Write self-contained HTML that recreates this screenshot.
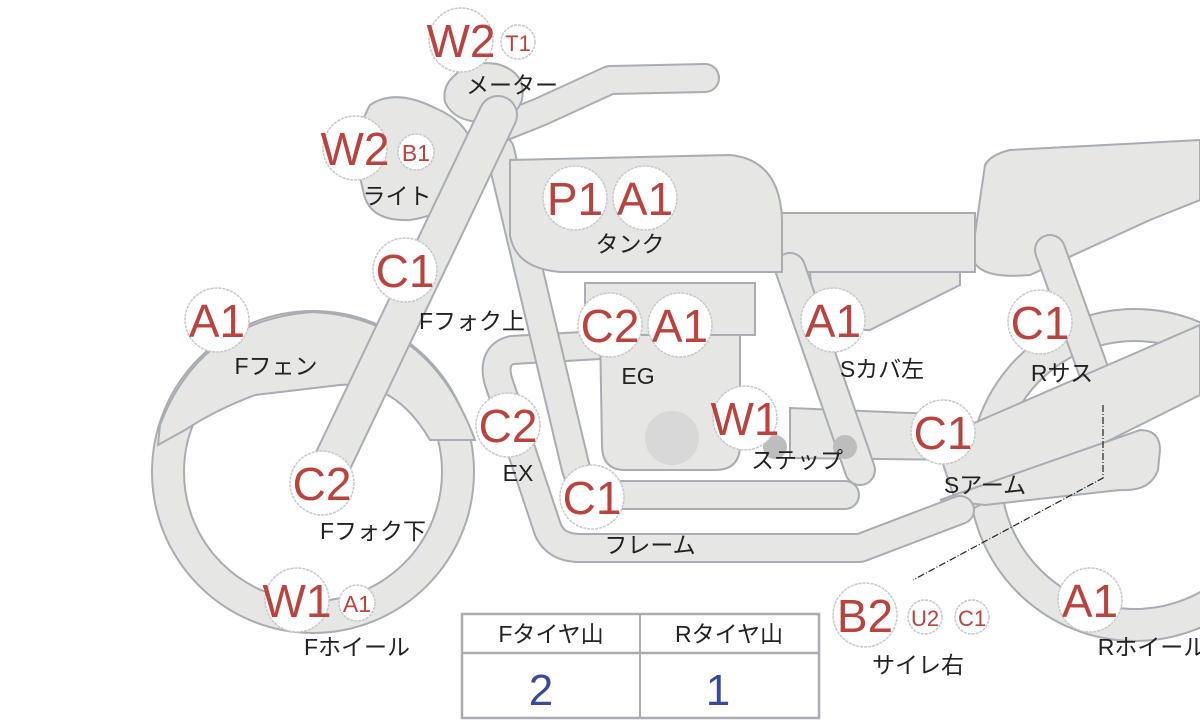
<!DOCTYPE html>
<html><head><meta charset="utf-8"><style>
html,body{margin:0;padding:0;background:#fff;}
svg{display:block}
.s{fill:#e6e6e4;stroke:#a9adb1;stroke-width:2}
.t{fill:none;stroke:#a9adb1;stroke-linecap:round;stroke-linejoin:round}
.f{fill:none;stroke:#e6e6e4;stroke-linecap:round;stroke-linejoin:round}
.b{fill:#fff;stroke:#c8c8c8;stroke-width:1.5;stroke-dasharray:3 1}
.r{fill:#b8433f;font-family:"Liberation Sans","DejaVu Sans",sans-serif;text-anchor:middle}
.l{fill:#222;font-family:"Liberation Sans","Noto Sans CJK JP",sans-serif;font-size:23px;text-anchor:middle}
</style></head><body>
<svg width="1200" height="720" viewBox="0 0 1200 720">
<circle cx="1135" cy="475" r="150" fill="none" stroke="#a9adb1" stroke-width="34"/>
<circle cx="1135" cy="475" r="150" fill="none" stroke="#e6e6e4" stroke-width="30"/>
<circle cx="313" cy="472" r="145" fill="none" stroke="#a9adb1" stroke-width="34"/>
<circle cx="313" cy="472" r="145" fill="none" stroke="#e6e6e4" stroke-width="30"/>
<path class="s" d="M158,445 L160,425 Q200,320 313,312 Q430,318 475,440 L430,440 Q395,380 340,385 L255,395 Q215,410 185,430 Z"/>
<path class="s" d="M985,165 Q990,155 1010,150 L1200,140 L1200,200 L1150,220 L1030,275 Q975,280 972,255 Z"/>
<path class="t" stroke-width="32" d="M1050,250 L1095,375"/><path class="f" stroke-width="28" d="M1050,250 L1095,375"/>
<path class="s" d="M775,213 L975,213 L975,272 L775,272 Z"/>
<path class="s" d="M810,272 L960,272 L960,285 L870,330 L815,330 Z"/>
<path class="s" d="M790,408 L960,415 L965,460 L790,458 Z"/>
<path class="t" stroke-width="32" d="M790,268 L860,470"/><path class="f" stroke-width="28" d="M790,268 L860,470"/>
<path class="s" d="M935,440 L1200,325 L1200,395 L960,515 Z"/>
<path class="s" d="M940,500 L1140,430 Q1160,430 1160,450 L1158,470 Q1150,492 1120,490 L985,505 Z"/>
<path class="t" stroke-width="30" d="M600,345 L512,350 Q492,355 498,380 L548,530 Q556,548 580,548 L860,548 L960,510"/>
<path class="f" stroke-width="26" d="M600,345 L512,350 Q492,355 498,380 L548,530 Q556,548 580,548 L860,548 L960,510"/>
<path class="t" stroke-width="30" d="M500,150 L575,465 Q582,495 610,495 L845,495"/>
<path class="f" stroke-width="26" d="M500,150 L575,465 Q582,495 610,495 L845,495"/>
<path class="s" d="M600,330 L740,330 L740,445 Q740,470 715,470 L625,470 Q602,470 602,445 Z"/>
<rect class="s" x="585" y="283" width="170" height="52"/>
<circle cx="672" cy="438" r="27" fill="#d8d8d8"/>
<circle cx="775" cy="447" r="12" fill="#bdbdbd"/><circle cx="845" cy="447" r="12" fill="#bdbdbd"/>
<path class="s" d="M510,160 L730,155 Q780,160 782,220 L782,272 L560,272 Q515,268 510,235 Z"/>
<path class="t" stroke-width="30" d="M495,130 L540,112 L610,80 L705,78"/><path class="f" stroke-width="26" d="M495,130 L540,112 L610,80 L705,78"/>
<path class="s" d="M370,105 Q395,88 435,108 Q482,128 472,172 Q462,212 410,220 Q368,222 363,190 Q350,140 370,105 Z"/>
<path class="s" d="M455,75 Q470,60 497,64 Q527,72 522,100 Q515,120 490,122 Q455,124 445,102 Q442,86 455,75 Z"/>
<path class="t" stroke-width="40" d="M320,488 L498,115"/><path class="f" stroke-width="36" d="M320,488 L498,115"/>
<path d="M1103,405 L1103,478 L913,580" fill="none" stroke="#222" stroke-width="1.2" stroke-dasharray="7 2 1 2"/>
<g>
<circle class="b" cx="461" cy="40" r="32"/><text class="r" x="461" y="57" font-size="46">W2</text>
<circle class="b" cx="518" cy="42" r="17"/><text class="r" x="518" y="51" font-size="22">T1</text>
<circle class="b" cx="355" cy="148" r="32"/><text class="r" x="355" y="165" font-size="46">W2</text>
<circle class="b" cx="416" cy="152" r="18"/><text class="r" x="416" y="161" font-size="23">B1</text>
<circle class="b" cx="575" cy="198" r="32"/><text class="r" x="575" y="215" font-size="46">P1</text>
<circle class="b" cx="645" cy="198" r="32"/><text class="r" x="645" y="215" font-size="46">A1</text>
<circle class="b" cx="405" cy="270" r="32"/><text class="r" x="405" y="287" font-size="46">C1</text>
<circle class="b" cx="217" cy="320" r="32"/><text class="r" x="217" y="337" font-size="46">A1</text>
<circle class="b" cx="610" cy="325" r="32"/><text class="r" x="610" y="342" font-size="46">C2</text>
<circle class="b" cx="680" cy="325" r="32"/><text class="r" x="680" y="342" font-size="46">A1</text>
<circle class="b" cx="833" cy="320" r="32"/><text class="r" x="833" y="337" font-size="46">A1</text>
<circle class="b" cx="1040" cy="322" r="32"/><text class="r" x="1040" y="339" font-size="46">C1</text>
<circle class="b" cx="508" cy="425" r="32"/><text class="r" x="508" y="442" font-size="46">C2</text>
<circle class="b" cx="745" cy="418" r="32"/><text class="r" x="745" y="435" font-size="46">W1</text>
<circle class="b" cx="943" cy="432" r="32"/><text class="r" x="943" y="449" font-size="46">C1</text>
<circle class="b" cx="322" cy="483" r="32"/><text class="r" x="322" y="500" font-size="46">C2</text>
<circle class="b" cx="592" cy="497" r="32"/><text class="r" x="592" y="514" font-size="46">C1</text>
<circle class="b" cx="297" cy="600" r="32"/><text class="r" x="297" y="617" font-size="46">W1</text>
<circle class="b" cx="357" cy="603" r="18"/><text class="r" x="357" y="612" font-size="23">A1</text>
<circle class="b" cx="865" cy="615" r="32"/><text class="r" x="865" y="632" font-size="46">B2</text>
<circle class="b" cx="925" cy="617" r="17"/><text class="r" x="925" y="626" font-size="22">U2</text>
<circle class="b" cx="972" cy="617" r="17"/><text class="r" x="972" y="626" font-size="22">C1</text>
<circle class="b" cx="1090" cy="600" r="32"/><text class="r" x="1090" y="617" font-size="46">A1</text>
</g>
<text class="l" x="512" y="93">メーター</text>
<text class="l" x="397" y="204">ライト</text>
<text class="l" x="630" y="252">タンク</text>
<text class="l" x="472" y="329">Fフォク上</text>
<text class="l" x="276" y="374">Fフェン</text>
<text class="l" x="638" y="384">EG</text>
<text class="l" x="882" y="377">Sカバ左</text>
<text class="l" x="1062" y="381">Rサス</text>
<text class="l" x="518" y="481">EX</text>
<text class="l" x="797" y="468">ステップ</text>
<text class="l" x="985" y="493">Sアーム</text>
<text class="l" x="373" y="539">Fフォク下</text>
<text class="l" x="650" y="553">フレーム</text>
<text class="l" x="357" y="655">Fホイール</text>
<text class="l" x="918" y="673">サイレ右</text>
<text class="l" x="1152" y="655">Rホイール</text>
<rect x="462" y="614" width="357" height="104" fill="#fff" stroke="#a9adb1" stroke-width="2.5"/>
<line x1="462" y1="653" x2="819" y2="653" stroke="#a9adb1" stroke-width="2.5"/>
<line x1="640" y1="614" x2="640" y2="718" stroke="#a9adb1" stroke-width="2"/>
<text class="l" x="551" y="642">Fタイヤ山</text>
<text class="l" x="729" y="642">Rタイヤ山</text>
<text x="541" y="705" fill="#3a4a9a" font-family="Liberation Sans,sans-serif" font-size="44" text-anchor="middle">2</text>
<text x="718" y="705" fill="#3a4a9a" font-family="Liberation Sans,sans-serif" font-size="44" text-anchor="middle">1</text>
</svg>
</body></html>
